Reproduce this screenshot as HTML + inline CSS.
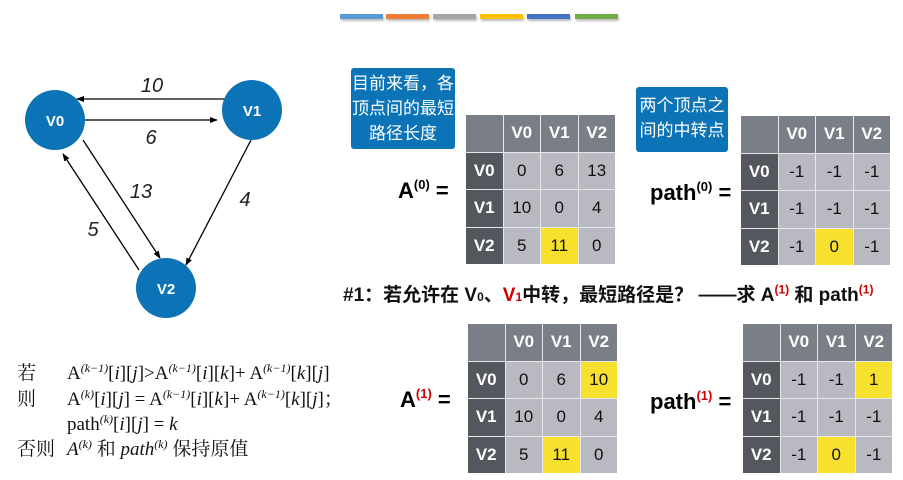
<!DOCTYPE html>
<html><head><meta charset="utf-8"><style>
body{margin:0;width:903px;height:480px;background:#fff;position:relative;overflow:hidden;font-family:"Liberation Sans","Noto Sans CJK SC",sans-serif}
.a{position:absolute}
.t{position:absolute;display:grid;grid-template-columns:repeat(4,36.5px);grid-template-rows:repeat(4,36.5px);gap:1px;background:#e8e8ea}
.t div{display:flex;align-items:center;justify-content:center;font-size:17px;color:#111;background:#b9b9c1}
.t .h{background:#7a7e86;color:#fff;font-weight:bold;font-size:17px}
.t .r{background:#54575e;color:#fff;font-weight:bold;font-size:17px}
.t .y{background:#f7e02e}
.lab{position:absolute;font-weight:bold;font-size:22px;color:#000;line-height:26px}
.lab sup{font-size:13px;vertical-align:9px;line-height:0}
.call{position:absolute;background:#0c74b6;color:#fff;font-size:17px;line-height:25px;text-align:center;border-radius:3px}
.bar{position:absolute;top:14px;height:5px;width:43px;box-shadow:1px 2px 2px #bbb}
.f{position:absolute;font-family:"Liberation Serif","Noto Serif CJK SC",serif;font-size:19px;line-height:22px;color:#111;white-space:nowrap}
.f sup{font-size:12px;font-style:italic;line-height:0;vertical-align:7px}
</style></head><body>
<div class="bar" style="left:340px;background:#5b9bd5"></div>
<div class="bar" style="left:386px;background:#ed7d31"></div>
<div class="bar" style="left:433px;background:#a5a5a5"></div>
<div class="bar" style="left:480px;background:#ffc000"></div>
<div class="bar" style="left:527px;background:#4472c4"></div>
<div class="bar" style="left:575px;background:#70ad47"></div>

<svg class="a" style="left:0;top:0" width="330" height="340">
<defs><marker id="m" markerWidth="8" markerHeight="8" refX="7" refY="4" orient="auto" markerUnits="userSpaceOnUse"><path d="M0,1 L8,4 L0,7z" fill="#000"/></marker></defs>
<g stroke="#000" stroke-width="1.3" marker-end="url(#m)">
<line x1="226" y1="99" x2="77" y2="99"/>
<line x1="85" y1="120" x2="217" y2="120"/>
<line x1="83" y1="140" x2="160" y2="258"/>
<line x1="139" y1="270" x2="63" y2="154"/>
<line x1="251" y1="140" x2="186" y2="265"/>
</g>
<g fill="#0c74b6"><circle cx="55" cy="120" r="30"/><circle cx="252" cy="110" r="30"/><circle cx="166" cy="288" r="30"/></g>
<g fill="#fff" font-family="Liberation Sans" font-weight="bold" font-size="15" text-anchor="middle">
<text x="55" y="126">V0</text><text x="252" y="116">V1</text><text x="166" y="294">V2</text></g>
<g font-family="Liberation Sans" font-style="italic" font-size="20" fill="#222" text-anchor="middle">
<text x="152" y="92">10</text><text x="151" y="144">6</text><text x="141" y="198">13</text><text x="245" y="206">4</text><text x="93" y="236">5</text></g>
<path d="M398,149 L416,149 L407,170z" fill="#0c74b6"/>
<path d="M676,152 L694,152 L685,173z" fill="#0c74b6"/>
</svg>

<div class="call" style="left:351px;top:68px;width:104px;height:81px;padding-top:3px;box-sizing:border-box">目前来看，各<br>顶点间的最短<br>路径长度</div>
<div class="call" style="left:636px;top:87px;width:92px;height:65px;padding-top:6px;box-sizing:border-box">两个顶点之<br>间的中转点</div>

<div class="lab" style="left:398px;top:178px">A<sup>(0)</sup> =</div>
<div class="lab" style="left:650px;top:180px">path<sup>(0)</sup> =</div>
<div class="lab" style="left:400px;top:387px">A<sup style="color:#c00">(1)</sup> =</div>
<div class="lab" style="left:650px;top:389px">path<sup style="color:#c00">(1)</sup> =</div>

<div class="t" style="left:466px;top:115px"><div class="h"></div><div class="h">V0</div><div class="h">V1</div><div class="h">V2</div><div class="r">V0</div><div>0</div><div>6</div><div>13</div><div class="r">V1</div><div>10</div><div>0</div><div>4</div><div class="r">V2</div><div>5</div><div class="y">11</div><div>0</div></div>
<div class="t" style="left:741px;top:116px"><div class="h"></div><div class="h">V0</div><div class="h">V1</div><div class="h">V2</div><div class="r">V0</div><div>-1</div><div>-1</div><div>-1</div><div class="r">V1</div><div>-1</div><div>-1</div><div>-1</div><div class="r">V2</div><div>-1</div><div class="y">0</div><div>-1</div></div>
<div class="t" style="left:468px;top:324px"><div class="h"></div><div class="h">V0</div><div class="h">V1</div><div class="h">V2</div><div class="r">V0</div><div>0</div><div>6</div><div class="y">10</div><div class="r">V1</div><div>10</div><div>0</div><div>4</div><div class="r">V2</div><div>5</div><div class="y">11</div><div>0</div></div>
<div class="t" style="left:743px;top:324px"><div class="h"></div><div class="h">V0</div><div class="h">V1</div><div class="h">V2</div><div class="r">V0</div><div>-1</div><div>-1</div><div class="y">1</div><div class="r">V1</div><div>-1</div><div>-1</div><div>-1</div><div class="r">V2</div><div>-1</div><div class="y">0</div><div>-1</div></div>

<div class="a" style="left:343px;top:284px;font-size:19px;line-height:24px;font-weight:bold;white-space:nowrap;color:#111">#1：若允许在 V<span style="font-size:12px">0</span>、<span style="color:#c00">V<span style="font-size:12px">1</span></span>中转，最短路径是？ ——求 A<sup style="font-size:12px;color:#c00;line-height:0">(1)</sup> 和 path<sup style="font-size:12px;color:#c00;line-height:0">(1)</sup></div>

<div class="f" style="left:17px;top:363px">若</div>
<div class="f" style="left:67px;top:363px">A<sup>(k−1)</sup>[<i>i</i>][<i>j</i>]&gt;A<sup>(k−1)</sup>[<i>i</i>][<i>k</i>]+ A<sup>(k−1)</sup>[<i>k</i>][<i>j</i>]</div>
<div class="f" style="left:17px;top:389px">则</div>
<div class="f" style="left:67px;top:389px">A<sup>(k)</sup>[<i>i</i>][<i>j</i>] = A<sup>(k−1)</sup>[<i>i</i>][<i>k</i>]+ A<sup>(k−1)</sup>[<i>k</i>][<i>j</i>]；</div>
<div class="f" style="left:67px;top:414px">path<sup>(k)</sup>[<i>i</i>][<i>j</i>] = <i>k</i></div>
<div class="f" style="left:17px;top:439px">否则</div>
<div class="f" style="left:67px;top:439px"><i>A</i><sup>(k)</sup> 和 <i>path</i><sup>(k)</sup> 保持原值</div>
</body></html>
